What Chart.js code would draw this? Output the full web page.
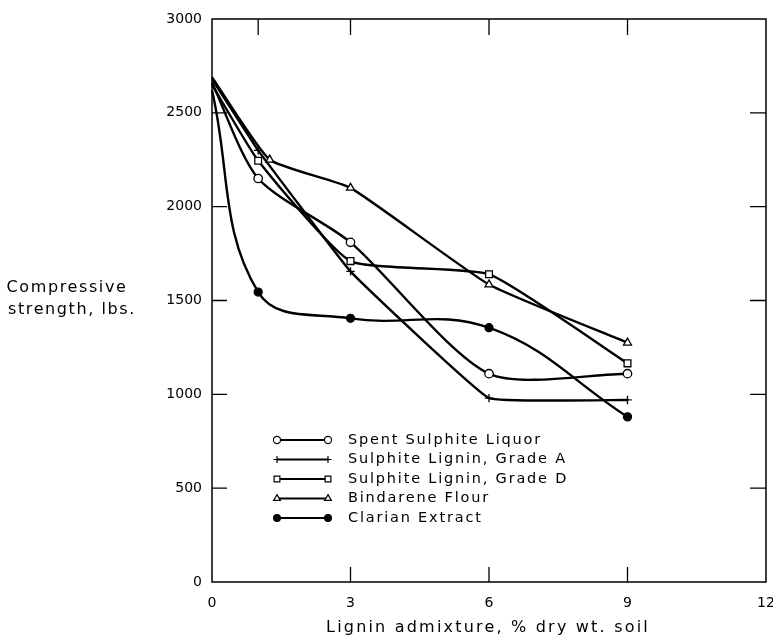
<!DOCTYPE html>
<html>
<head>
<meta charset="utf-8">
<script src="https://cdn.jsdelivr.net/npm/chart.js@4/dist/chart.umd.min.js"></script>
<style>
  html, body { margin: 0; padding: 0; background: #ffffff; }
  canvas { display: block; }
</style>
</head>
<body>
<canvas id="c" width="773" height="637"></canvas>
<script>
// ---- data ----
const seriesNames = ['Spent Sulphite Liquor', 'Sulphite Lignin, Grade A', 'Sulphite Lignin, Grade D', 'Bindarene Flour', 'Clarian Extract'];
const spentX  = [0, 1, 3, 6, 9];
const spentY  = [2660, 2150, 1810, 1110, 1110];
const gradeAX = [0, 1, 3, 6, 9];
const gradeAY = [2680, 2300, 1655, 980, 970];
const gradeDX = [0, 1, 3, 6, 9];
const gradeDY = [2650, 2245, 1710, 1640, 1165];
const bindX   = [0, 1.25, 3, 6, 9];
const bindY   = [2690, 2250, 2100, 1585, 1275];
const clarX   = [0, 1, 3, 6, 9];
const clarY   = [2620, 1545, 1405, 1355, 880];
const xTicks  = [0, 3, 6, 9, 12];
const xTopTicks = [1, 3, 6, 9];
const yTicks  = [0, 500, 1000, 1500, 2000, 2500, 3000];
const xTitle  = 'Lignin admixture, % dry wt. soil';
const yTitle  = ['Compressive', 'strength, lbs.'];

const FONT = "'DejaVu Sans', sans-serif";
const pts = (xs, ys) => xs.map((x, i) => ({ x: x, y: ys[i] }));

const styles = [
  { pointStyle: 'circle',   bg: '#ffffff', r: 4.2, tension: 0.25 },
  { pointStyle: 'cross',    bg: '#ffffff', r: 4.2, tension: 0.08 },
  { pointStyle: 'rect',     bg: '#ffffff', r: 4.8, tension: 0.15 },
  { pointStyle: 'triangle', bg: '#ffffff', r: 4.6, tension: 0.15 },
  { pointStyle: 'circle',   bg: '#000000', r: 4.0, tension: 0.4 }
];
const allData = [pts(spentX, spentY), pts(gradeAX, gradeAY), pts(gradeDX, gradeDY), pts(bindX, bindY), pts(clarX, clarY)];

const datasets = allData.map((d, i) => ({
  label: seriesNames[i],
  data: d,
  showLine: true,
  borderColor: '#000',
  borderWidth: 2.4,
  tension: styles[i].tension,
  pointStyle: styles[i].pointStyle,
  pointBackgroundColor: styles[i].bg,
  pointBorderColor: '#000',
  pointBorderWidth: 1.3,
  pointRadius: d.map((p, j) => j === 0 ? 0 : styles[i].r),
  clip: 4
}));

// ---- frame, inward tick marks, titles, legend ----
const decor = {
  id: 'decor',
  afterDatasetsDraw(chart) {
    const ctx = chart.ctx, a = chart.chartArea;
    const xs = chart.scales.x, ys = chart.scales.y;
    ctx.save();
    ctx.strokeStyle = '#000';
    ctx.lineWidth = 1.5;
    ctx.strokeRect(a.left, a.top, a.right - a.left, a.bottom - a.top);
    ctx.lineWidth = 1.3;
    ctx.beginPath();
    xTicks.filter(v => v > 0 && v < 12).forEach(v => {
      const px = xs.getPixelForValue(v);
      ctx.moveTo(px, a.bottom); ctx.lineTo(px, a.bottom - 15);
    });
    xTopTicks.forEach(v => {
      const px = xs.getPixelForValue(v);
      ctx.moveTo(px, a.top); ctx.lineTo(px, a.top + 16);
    });
    yTicks.filter(v => v > 0 && v < 3000).forEach(v => {
      const py = ys.getPixelForValue(v);
      ctx.moveTo(a.left, py); ctx.lineTo(a.left + 15, py);
      ctx.moveTo(a.right, py); ctx.lineTo(a.right - 16, py);
    });
    ctx.stroke();

    // titles
    ctx.fillStyle = '#000';
    ctx.textBaseline = 'middle';
    ctx.font = '16px ' + FONT;
    ctx.letterSpacing = '2.2px';
    ctx.textAlign = 'center';
    ctx.fillText(xTitle, 488, 628);
    ctx.letterSpacing = '1.6px';
    ctx.fillText(yTitle[0], 67, 288);
    ctx.fillText(yTitle[1], 72, 310);

    // legend
    ctx.font = '14.5px ' + FONT;
    ctx.letterSpacing = '1.8px';
    ctx.textAlign = 'left';
    const legTop = 440, legStep = 19.5, symL = 277, symR = 328, textX = 348;
    seriesNames.forEach((name, i) => {
      const y = legTop + i * legStep;
      ctx.lineWidth = 2;
      ctx.strokeStyle = '#000';
      ctx.beginPath();
      ctx.moveTo(symL, y); ctx.lineTo(symR, y);
      ctx.stroke();
      const st = styles[i];
      [symL, symR].forEach(x => {
        ctx.fillStyle = st.bg;
        ctx.strokeStyle = '#000';
        ctx.lineWidth = 1.2;
        Chart.helpers.drawPoint(ctx, {
          pointStyle: st.pointStyle, radius: st.r * 0.85, borderWidth: 1.2, rotation: 0
        }, x, y);
      });
      ctx.fillStyle = '#000';
      ctx.fillText(name, textX, y);
    });
    ctx.restore();
  }
};

new Chart(document.getElementById('c'), {
  type: 'scatter',
  data: { datasets: datasets },
  options: {
    responsive: false,
    animation: false,
    events: [],
    layout: { padding: { top: 19, right: 7, left: 0, bottom: 0 } },
    plugins: { legend: { display: false }, tooltip: { enabled: false } },
    scales: {
      x: {
        type: 'linear', min: 0, max: 12,
        grid: { display: false, drawTicks: false },
        border: { display: false },
        afterBuildTicks: s => { s.ticks = xTicks.map(v => ({ value: v })); },
        afterFit: s => { s.height = 55; s.paddingLeft = 0; s.paddingRight = 0; },
        ticks: { color: '#000', padding: 13, font: { family: FONT, size: 14 }, maxRotation: 0,
                 callback: v => String(v) }
      },
      y: {
        type: 'linear', min: 0, max: 3000,
        grid: { display: false, drawTicks: false },
        border: { display: false },
        afterBuildTicks: s => { s.ticks = yTicks.map(v => ({ value: v })); },
        afterFit: s => { s.width = 212; s.paddingTop = 0; s.paddingBottom = 0; },
        ticks: { color: '#000', padding: 10, font: { family: FONT, size: 14 },
                 callback: v => String(v) }
      }
    }
  },
  plugins: [decor]
});
</script>
</body>
</html>
